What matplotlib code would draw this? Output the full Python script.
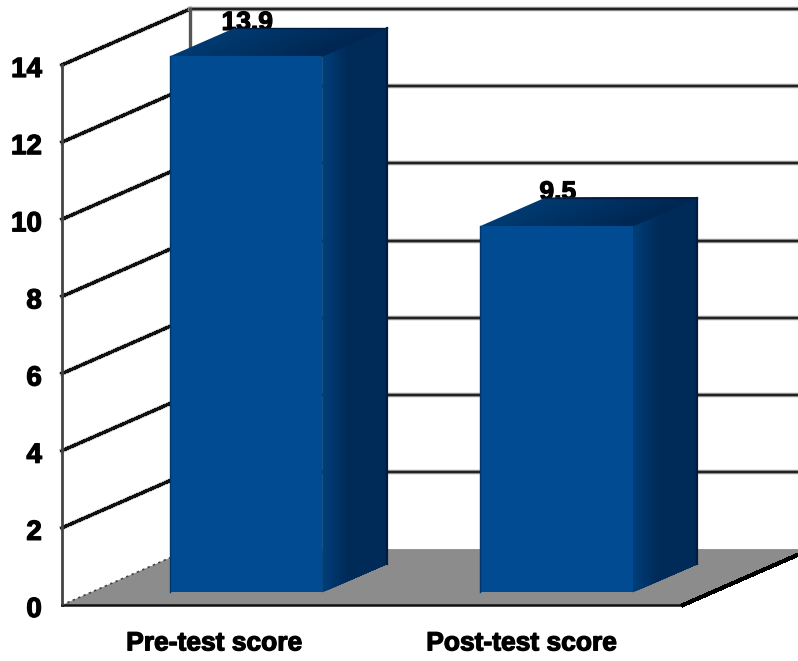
import numpy as np
import matplotlib
matplotlib.use("Agg")
from matplotlib import pyplot as plt
from matplotlib.patches import Polygon
from matplotlib import patheffects, transforms

categories = ["Pre-test score", "Post-test score"]
scores = [13.9, 9.5]
score_labels = ["13.9", "9.5"]
y_ticks = [0, 2, 4, 6, 8, 10, 12, 14]

# oblique projection of the box: depth 0..1 shifts a point right and up
DEPTH_X = 0.412
DEPTH_Y = 1.45
BAR_WIDTH = 0.49
BAR_Z = (0.225, 0.73)
X_MAX = 2.0
Y_MAX = 14

HEAVY = [patheffects.withStroke(linewidth=0.9, foreground="black")]


def project(x, y, z=0.0):
    return x + z * DEPTH_X, y + z * DEPTH_Y


def face(ax, corners, color, zorder):
    pts = [project(*c) for c in corners]
    ax.add_patch(Polygon(pts, closed=True, facecolor=color, edgecolor="none",
                         linewidth=0, zorder=zorder, clip_on=False))


def mix(c1, c2, t):
    return tuple((1 - t) * a + t * b for a, b in zip(c1, c2))


def draw_bar(ax, center, value, zorder):
    x0 = center - BAR_WIDTH / 2
    x1 = center + BAR_WIDTH / 2
    z0, z1 = BAR_Z
    # strips overlap up to the far edge so that no seams show between them
    n = 30
    for i, z in enumerate(np.linspace(z0, z1, n, endpoint=False)):
        t = i / (n - 1)
        side = mix((0, 62 / 255, 120 / 255), (0, 42 / 255, 88 / 255), min(t * 2.5, 1))
        face(ax, [(x1, 0, z), (x1, 0, z1), (x1, value, z1), (x1, value, z)], side, zorder)
    for i, x in enumerate(np.linspace(x0, x1, n, endpoint=False)):
        t = i / (n - 1)
        top = mix((0, 58 / 255, 112 / 255), (0, 38 / 255, 82 / 255), t)
        face(ax, [(x, value, z0), (x1, value, z0), (x1, value, z1), (x, value, z1)], top, zorder)
    face(ax, [(x0, 0, z0), (x1, 0, z0), (x1, value, z0), (x0, value, z0)],
         "#004b92", zorder + 1)
    # dark outline on the back corner
    bx, by = project(x1, 0, z1)
    tx, ty = project(x1, value, z1)
    ax.plot([bx, tx], [by, ty], color="#001c42", lw=1.6, zorder=zorder + 1, clip_on=False)
    lx, ly = project(x0, value, z1)
    ax.plot([lx, tx], [ly, ty], color="#001c42", lw=1.0, zorder=zorder + 1, clip_on=False)
    fx, fy = project(x0, 0, z0)
    gx, gy = project(x0, value, z0)
    ax.plot([fx, gx], [fy, gy], color="#00356e", lw=1.0, zorder=zorder + 2, clip_on=False)


fig = plt.figure(figsize=(7.98, 6.61), dpi=100, facecolor="white")
ax = fig.add_axes([62 / 798, 1 - 605 / 661, (683 - 62) / 798, (605 - 65) / 661])
ax.set_xlim(0, X_MAX)
ax.set_ylim(0, Y_MAX)
for s in ax.spines.values():
    s.set_visible(False)
ax.patch.set_alpha(0)

# floor
face(ax, [(0, 0, 0), (X_MAX, 0, 0), (X_MAX, 0, 1), (0, 0, 1)], "#8c8c8c", 1)

# gridlines on the side and back walls, the 0 level is the floor edge
for v in y_ticks[1:]:
    x_a, y_a = project(0, v, 0)
    x_b, y_b = project(0, v, 1)
    x_c, y_c = project(X_MAX, v, 1)
    ax.plot([x_a, x_b], [y_a, y_b], color="#b0b0b0", lw=3.4, zorder=2, clip_on=False)
    ax.plot([x_a, x_b], [y_a, y_b], color="#111111", lw=1.5, zorder=2, clip_on=False,
            antialiased=False)
    ax.plot([x_b, x_c], [y_b, y_c], color="#999999", lw=3.2, zorder=2, clip_on=False)
    ax.plot([x_b, x_c], [y_b, y_c], color="#222222", lw=1.6, zorder=2, clip_on=False)

# wall corners
ax.plot([0, 0], [0, Y_MAX], color="#444444", lw=2.0, zorder=3, clip_on=False)
x_b, y_b = project(0, 0, 1)
x_t, y_t = project(0, Y_MAX, 1)
ax.plot([x_b, x_t], [y_b, y_t], color="#555555", lw=2.4, zorder=2, clip_on=False)

# floor edges
ax.plot([0, X_MAX], [0, 0], color="#111111", lw=1.8, zorder=3, clip_on=False)
x_r, y_r = project(X_MAX, 0, 1)
ax.plot([X_MAX, x_r], [0, y_r], color="#000000", lw=2.2, zorder=3, clip_on=False,
        antialiased=False)
x_l, y_l = project(0, 0, 1)
ax.plot([0, x_l], [0, y_l], color="#444444", lw=1.2, ls=(0, (1.5, 2)), zorder=3, clip_on=False)

centers = [i + 0.5 for i in range(len(scores))]

for c, v, lab in zip(centers, scores, score_labels):
    # the label sits partly behind the bar's top face
    xt, yt = project(c, v, BAR_Z[1])
    ax.text(c + DEPTH_X * BAR_Z[0] + 0.004, yt - 0.05, lab, ha="center", va="baseline",
            fontsize=19, fontweight="bold", family="Liberation Sans", color="black",
            zorder=4, clip_on=False, path_effects=HEAVY)
    draw_bar(ax, c, v, 5)

ax.set_yticks(y_ticks)
ax.set_yticklabels([str(t) for t in y_ticks], fontsize=20, fontweight="bold",
                   family="Liberation Sans", path_effects=HEAVY)
ax.set_xticks(centers)
ax.set_xticklabels(categories, fontsize=19, fontweight="bold",
                   family="Liberation Sans", path_effects=HEAVY)
ax.tick_params(axis="y", length=0, pad=14.5, colors="black")
ax.tick_params(axis="x", length=0, pad=19, colors="black")

# nudge the tick labels to sit where the category names are printed
for lab, dx in zip(ax.get_xticklabels(), [-3, -6]):
    lab.set_transform(lab.get_transform() + transforms.ScaledTranslation(dx / 100, 0, fig.dpi_scale_trans))
for lab in ax.get_yticklabels():
    lab.set_transform(lab.get_transform() + transforms.ScaledTranslation(0, -2 / 100, fig.dpi_scale_trans))

fig.savefig("out.png", dpi=100, facecolor="white")
